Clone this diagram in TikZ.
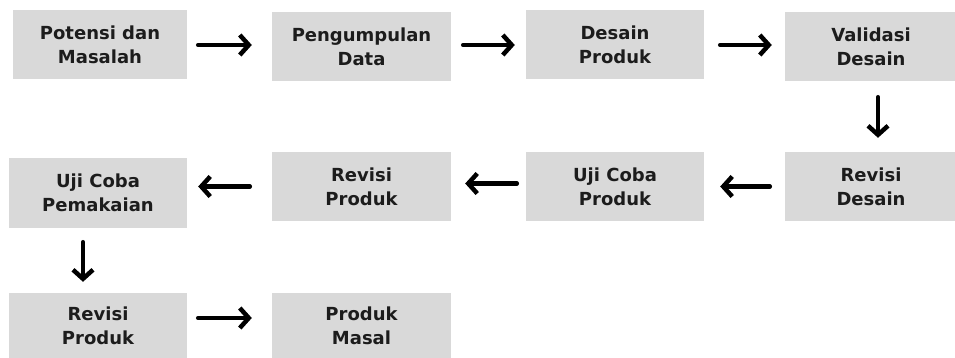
\documentclass[tikz,border=0pt]{standalone}
\usepackage{fontspec}
\setmainfont{DejaVu Sans}
\usetikzlibrary{arrows.meta}
\definecolor{boxgray}{RGB}{217,217,217}
\definecolor{ink}{RGB}{28,28,28}
\tikzset{
  stepbox/.style={fill=boxgray, draw=none, minimum height=69pt, align=center,
    text=ink, font=\fontsize{18}{24}\selectfont\bfseries, inner sep=0pt},
  arr/.style={line width=4.5pt, line cap=round, line join=round, draw=black,
    -{Straight Barb[length=9pt,width=20pt,line width=4.5pt]}}
}
\begin{document}
\begin{tikzpicture}[x=1pt,y=1pt]
\useasboundingbox (0,0) rectangle (955,-358);
% row 1
\node[stepbox, minimum width=174pt] (b1) at (100,-45) {Potensi dan\\Masalah};
\node[stepbox, minimum width=179pt] (b2) at (361.5,-47) {Pengumpulan\\Data};
\node[stepbox, minimum width=178pt] (b3) at (615,-45) {Desain\\Produk};
\node[stepbox, minimum width=172pt] (b4) at (871,-46.5) {Validasi\\Desain};
% row 2
\node[stepbox, minimum width=172pt] (b8) at (871,-186.5) {Revisi\\Desain};
\node[stepbox, minimum width=178pt] (b7) at (615,-186.5) {Uji Coba\\Produk};
\node[stepbox, minimum width=179pt] (b6) at (361.5,-186.5) {Revisi\\Produk};
\node[stepbox, minimum width=178pt, minimum height=70pt] (b5) at (98,-193) {Uji Coba\\Pemakaian};
% row 3
\node[stepbox, minimum width=178pt, minimum height=66pt] (b9) at (98,-326) {Revisi\\Produk};
\node[stepbox, minimum width=179pt, minimum height=66pt] (b10) at (361.5,-326) {Produk\\Masal};
% connectors
\draw[arr, shorten <=11pt, shorten >=20pt] (b1.east) -- (b1.east -| b2.west);
\draw[arr, shorten <=12pt, shorten >=11pt] (b2.east |- b3.west) -- (b3.west);
\draw[arr, shorten <=16pt, shorten >=13pt] (b3.east) -- (b3.east -| b4.west);
\draw[arr, shorten <=16pt, shorten >=14pt] ([xshift=7pt]b4.south) -- ([xshift=7pt]b4.south |- b8.north);
\draw[arr, shorten <=15pt, shorten >=16pt] (b8.west) -- (b8.west -| b7.east);
\draw[arr, shorten <=9pt, shorten >=14pt] ([yshift=3pt]b7.west) -- ([yshift=3pt]b7.west -| b6.east);
\draw[arr, shorten <=22pt, shorten >=11pt] (b6.west) -- (b6.west -| b5.east);
\draw[arr, shorten <=14pt, shorten >=11pt] ([xshift=-15pt]b5.south) -- ([xshift=-15pt]b5.south |- b9.north);
\draw[arr, shorten <=11pt, shorten >=20pt] ([yshift=8pt]b9.east) -- ([yshift=8pt]b9.east -| b10.west);
\end{tikzpicture}
\end{document}
